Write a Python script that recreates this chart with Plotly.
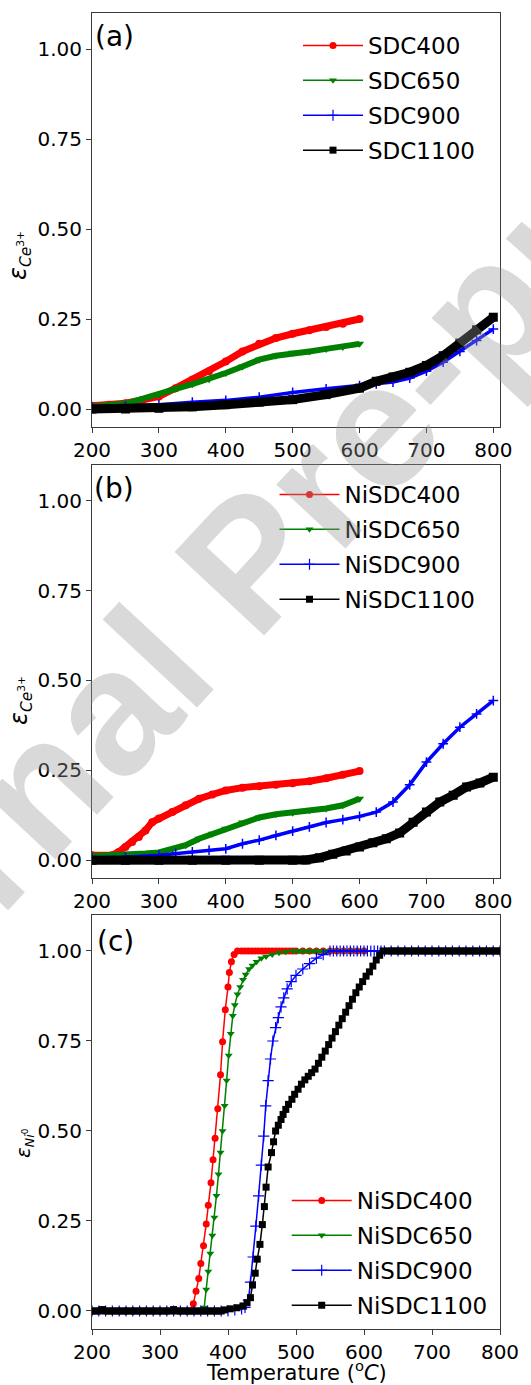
import plotly.graph_objects as go

# ---------------- data: panel (a) ----------------
T_A_LOW = [200, 225, 250, 275, 300, 325, 350, 375, 400, 425, 450, 475, 500, 525, 550, 575, 600]
SDC400 = [0.009, 0.012, 0.016, 0.025, 0.035, 0.058, 0.081, 0.105, 0.132, 0.160, 0.181, 0.197, 0.209, 0.219, 0.228, 0.237, 0.250]
SDC650 = [0.007, 0.010, 0.015, 0.028, 0.040, 0.056, 0.069, 0.083, 0.100, 0.118, 0.137, 0.148, 0.156, 0.160, 0.167, 0.172, 0.181]
T_A_HIGH = [200, 250, 300, 350, 400, 450, 500, 550, 600, 625, 650, 675, 700, 725, 750, 775, 800]
SDC900 = [0.006, 0.008, 0.012, 0.019, 0.024, 0.033, 0.046, 0.056, 0.065, 0.070, 0.075, 0.086, 0.105, 0.130, 0.160, 0.190, 0.222]
SDC1100 = [0.000, 0.000, 0.002, 0.006, 0.012, 0.019, 0.026, 0.040, 0.058, 0.077, 0.089, 0.102, 0.121, 0.148, 0.183, 0.220, 0.255]

# ---------------- data: panel (b) ----------------
T_B400 = [200, 230, 240, 250, 260, 270, 280, 290, 300, 320, 340, 360, 380, 400, 425, 450, 475, 500, 525, 550, 575, 600]
NISDC400_B = [0.014, 0.014, 0.023, 0.037, 0.051, 0.065, 0.083, 0.106, 0.116, 0.134, 0.153, 0.171, 0.183, 0.194, 0.202, 0.206, 0.210, 0.214, 0.220, 0.228, 0.238, 0.248]
T_B650 = [200, 250, 280, 300, 320, 340, 360, 380, 400, 425, 450, 475, 500, 525, 550, 575, 600]
NISDC650_B = [0.012, 0.014, 0.019, 0.022, 0.030, 0.042, 0.060, 0.074, 0.088, 0.105, 0.119, 0.128, 0.132, 0.139, 0.144, 0.153, 0.171]
T_B900 = [200, 250, 300, 325, 350, 375, 400, 425, 450, 475, 500, 525, 550, 575, 600, 625, 650, 675, 700, 725, 750, 775, 800]
NISDC900_B = [0.007, 0.009, 0.014, 0.019, 0.023, 0.028, 0.032, 0.046, 0.056, 0.069, 0.081, 0.093, 0.105, 0.113, 0.122, 0.134, 0.162, 0.210, 0.273, 0.324, 0.370, 0.407, 0.444]
T_B1100 = [200, 250, 300, 350, 400, 450, 500, 520, 540, 560, 580, 600, 620, 640, 660, 680, 700, 720, 740, 760, 780, 800]
NISDC1100_B = [0.000, 0.000, 0.000, 0.000, 0.000, 0.000, 0.000, 0.001, 0.007, 0.017, 0.026, 0.037, 0.049, 0.060, 0.076, 0.106, 0.134, 0.162, 0.181, 0.204, 0.215, 0.231]

# ---------------- data: panel (c) ----------------
T_C400 = [200, 210, 220, 230, 240, 250, 260, 270, 280, 290, 300, 310, 320, 330, 340, 345,
          349, 353, 357, 360, 364, 368, 371, 375, 378, 381, 385, 389, 392, 396, 400, 402, 405, 409, 414,
          420, 425, 430, 435, 440, 445, 450, 455, 460, 465, 470, 475, 480, 485, 490, 495, 500,
          510, 520, 530, 540, 550, 560, 570, 580, 590, 600]
NISDC400_C = [0.0, 0.0, 0.0, 0.0, 0.0, 0.0, 0.0, 0.0, 0.0, 0.0, 0.0, 0.0, 0.0, 0.0, 0.0, 0.0,
              0.020, 0.055, 0.090, 0.132, 0.181, 0.242, 0.294, 0.356, 0.420, 0.480, 0.562, 0.656, 0.748, 0.837, 0.900, 0.940, 0.970, 0.990, 1.0,
              1.0, 1.0, 1.0, 1.0, 1.0, 1.0, 1.0, 1.0, 1.0, 1.0, 1.0, 1.0, 1.0, 1.0, 1.0, 1.0, 1.0,
              1.0, 1.0, 1.0, 1.0, 1.0, 1.0, 1.0, 1.0, 1.0, 1.0]

T_C650 = [200, 210, 220, 230, 240, 250, 260, 270, 280, 290, 300, 310, 320, 330, 340, 350, 360,
          365, 368, 371, 374, 377, 380, 383, 386, 389, 392, 395, 398, 401, 404, 407, 410, 414, 418, 422, 426,
          431, 436, 442, 449, 456, 465, 475, 485, 495,
          500, 505, 510, 515, 520, 525, 530, 535, 540, 545, 550, 560, 570, 580, 590, 600]
NISDC650_C = [0.0, 0.0, 0.0, 0.0, 0.0, 0.0, 0.0, 0.0, 0.0, 0.0, 0.0, 0.0, 0.0, 0.0, 0.0, 0.0, 0.0,
              0.010, 0.060, 0.110, 0.160, 0.210, 0.260, 0.320, 0.380, 0.440, 0.500, 0.570, 0.640, 0.710, 0.770, 0.820, 0.850, 0.880, 0.900, 0.920, 0.935,
              0.950, 0.960, 0.970, 0.980, 0.985, 0.990, 0.995, 0.998, 1.0,
              1.0, 1.0, 1.0, 1.0, 1.0, 1.0, 1.0, 1.0, 1.0, 1.0, 1.0, 1.0, 1.0, 1.0, 1.0, 1.0]

T_C900 = [200, 210, 220, 230, 240, 250, 260, 270, 280, 290, 300, 310, 320, 330, 340, 350, 360, 370, 380, 390, 400, 410, 420,
          425, 430, 433, 437, 441, 445, 449, 452.5, 455.5, 459, 462.5, 466, 470, 474, 478, 482, 487, 493, 500, 510, 520, 530, 540, 550,
          555, 560, 565, 570, 575, 580, 585, 590, 595, 600, 605, 610, 615, 620, 625, 630,
          640, 650, 660, 670, 680, 690, 700, 710, 720, 730, 740, 750, 760, 770, 780, 790, 800]
NISDC900_C = [0.0, 0.0, 0.0, 0.0, 0.0, 0.0, 0.0, 0.0, 0.0, 0.0, 0.0, 0.0, 0.0, 0.0, 0.0, 0.0, 0.0, 0.0, 0.0, 0.0, 0.0, 0.003, 0.006,
              0.010, 0.030, 0.080, 0.150, 0.236, 0.320, 0.405, 0.486, 0.570, 0.640, 0.700, 0.750, 0.787, 0.815, 0.845, 0.870, 0.895, 0.915, 0.932, 0.950, 0.965, 0.980, 0.990, 1.0,
              1.0, 1.0, 1.0, 1.0, 1.0, 1.0, 1.0, 1.0, 1.0, 1.0, 1.0, 1.0, 1.0, 1.0, 1.0, 1.0,
              1.0, 1.0, 1.0, 1.0, 1.0, 1.0, 1.0, 1.0, 1.0, 1.0, 1.0, 1.0, 1.0, 1.0, 1.0, 1.0, 1.0]

T_C1100 = [200, 205, 210, 215, 220, 225, 230, 235, 240, 245, 250, 255, 260, 265, 270, 275, 280, 285, 290, 295,
           300, 305, 310, 315, 320, 325, 330, 335, 340, 345, 350, 355, 360, 365, 370, 375, 380, 385, 390,
           395, 403, 413, 422, 428, 433, 436, 440, 443, 447,
           450.5, 453.5, 456, 459, 464, 467, 470, 474, 478, 481,
           485, 489, 494, 498, 503, 508, 513, 518, 523, 528,
           533, 538, 543, 548, 553, 558, 563, 568, 573, 578,
           583, 588, 593, 598, 603, 608, 613, 618, 623, 628,
           635, 640, 645, 650, 655, 660, 665, 670, 675, 680, 685, 690, 695, 700, 705, 710, 715,
           720, 725, 730, 735, 740, 745, 750, 755, 760, 765, 770, 775, 780, 785, 790, 795, 800]
NISDC1100_C = [0.0, 0.0, 0.0, 0.004, 0.0, 0.0, 0.0, 0.0, 0.0, 0.0, 0.0, 0.0, 0.0, 0.0, 0.0, 0.0, 0.0, 0.0, 0.0, 0.0,
               0.0, 0.0, 0.0, 0.0, 0.004, 0.0, 0.0, 0.0, 0.0, 0.0, 0.0, 0.0, 0.0, 0.0, 0.0, 0.0, 0.0, 0.0, 0.0,
               0.003, 0.006, 0.009, 0.014, 0.023, 0.037, 0.072, 0.105, 0.144, 0.185,
               0.240, 0.290, 0.344, 0.400, 0.440, 0.470, 0.500, 0.516, 0.532, 0.546,
               0.560, 0.574, 0.588, 0.602, 0.616, 0.630, 0.642, 0.652, 0.662, 0.672,
               0.688, 0.705, 0.722, 0.740, 0.758, 0.776, 0.794, 0.812, 0.830, 0.848,
               0.866, 0.884, 0.900, 0.915, 0.930, 0.942, 0.958, 0.975, 0.988, 1.0,
               1.0, 1.0, 1.0, 1.0, 1.0, 1.0, 1.0, 1.0, 1.0, 1.0, 1.0, 1.0, 1.0, 1.0, 1.0, 1.0, 1.0,
               1.0, 1.0, 1.0, 1.0, 1.0, 1.0, 1.0, 1.0, 1.0, 1.0, 1.0, 1.0, 1.0, 1.0, 1.0, 1.0, 1.0]

NAMES_A = ["SDC400", "SDC650", "SDC900", "SDC1100"]
NAMES_BC = ["NiSDC400", "NiSDC650", "NiSDC900", "NiSDC1100"]
X_TICKS = [200, 300, 400, 500, 600, 700, 800]
Y_TICKS = [0.0, 0.25, 0.5, 0.75, 1.0]
Y_TICKTEXT = ["0.00", "0.25", "0.50", "0.75", "1.00"]

for t, v in [(T_C400, NISDC400_C), (T_C650, NISDC650_C), (T_C900, NISDC900_C), (T_C1100, NISDC1100_C)]:
    assert len(t) == len(v), (len(t), len(v))

# ---------------- styles ----------------
FONT = "DejaVu Sans"
COLORS = ["#ff0000", "#008000", "#0000ff", "#000000"]
SYMBOLS = ["circle", "triangle-down", "cross-thin", "square"]
BAND_W = [7, 6, 3.5, 9]
BAND_MS = [8, 8, 7, 9]

fig = go.Figure()


def add_band(x, y, i, xa, ya):
    mk = dict(symbol=SYMBOLS[i], size=BAND_MS[i], color=COLORS[i])
    if SYMBOLS[i] == "cross-thin":
        mk["line"] = dict(color=COLORS[i], width=1.5)
    fig.add_trace(go.Scatter(x=x, y=y, mode="lines+markers", xaxis=xa, yaxis=ya,
                             line=dict(color=COLORS[i], width=BAND_W[i]),
                             marker=mk, showlegend=False, hoverinfo="skip"))


def thin_marker(i):
    mk = dict(symbol=SYMBOLS[i], size=7, color=COLORS[i])
    if SYMBOLS[i] == "cross-thin":
        mk["line"] = dict(color=COLORS[i], width=1.2)
        mk["size"] = 8
    return mk


def add_thin(x, y, i, xa, ya):
    fig.add_trace(go.Scatter(x=x, y=y, mode="lines+markers", xaxis=xa, yaxis=ya,
                             line=dict(color=COLORS[i], width=1.5),
                             marker=thin_marker(i), showlegend=False, hoverinfo="skip"))


def add_legend_entry(name, i, xa, ya, leg):
    fig.add_trace(go.Scatter(x=[None], y=[None], mode="lines+markers", name=name,
                             xaxis=xa, yaxis=ya, legend=leg, legendgroup=leg + name,
                             line=dict(color=COLORS[i], width=1.5), marker=thin_marker(i)))


# panel (a)
add_band(T_A_LOW, SDC400, 0, "x", "y")
add_band(T_A_LOW, SDC650, 1, "x", "y")
add_band(T_A_HIGH, SDC900, 2, "x", "y")
add_band(T_A_HIGH, SDC1100, 3, "x", "y")
# panel (b)
add_band(T_B400, NISDC400_B, 0, "x2", "y2")
add_band(T_B650, NISDC650_B, 1, "x2", "y2")
add_band(T_B900, NISDC900_B, 2, "x2", "y2")
add_band(T_B1100, NISDC1100_B, 3, "x2", "y2")
# panel (c)
add_thin(T_C400, NISDC400_C, 0, "x3", "y3")
add_thin(T_C650, NISDC650_C, 1, "x3", "y3")
add_thin(T_C900, NISDC900_C, 2, "x3", "y3")
add_thin(T_C1100, NISDC1100_C, 3, "x3", "y3")

for i, n in enumerate(NAMES_A):
    add_legend_entry(n, i, "x", "y", "legend")
for i, n in enumerate(NAMES_BC):
    add_legend_entry(n, i, "x2", "y2", "legend2")
for i, n in enumerate(NAMES_BC):
    add_legend_entry(n, i, "x3", "y3", "legend3")

AX = dict(showline=True, mirror=True, linecolor="#3a3a3a", linewidth=1,
          ticks="outside", ticklen=5, tickwidth=1, tickcolor="#3a3a3a",
          showgrid=False, zeroline=False,
          tickfont=dict(size=20, family=FONT, color="black"))

XA = dict(AX, tickvals=X_TICKS)
YA = dict(AX, tickvals=Y_TICKS, ticktext=Y_TICKTEXT, range=[-0.05, 1.10])

LEG = dict(xanchor="left", yanchor="top", bgcolor="rgba(255,255,255,0)",
           font=dict(size=23, family=FONT, color="black"), itemwidth=60,
           traceorder="grouped", tracegroupgap=2)

fig.update_layout(
    width=531, height=1385,
    margin=dict(l=92, r=31, t=13, b=56),
    paper_bgcolor="white", plot_bgcolor="white",
    font=dict(family=FONT, size=20, color="black"),
    xaxis=dict(XA, domain=[0, 1], anchor="y", range=[200, 810]),
    yaxis=dict(YA, domain=[0.6854, 1.0], anchor="x"),
    xaxis2=dict(XA, domain=[0, 1], anchor="y2", range=[200, 810]),
    yaxis2=dict(YA, domain=[0.3425, 0.6568], anchor="x2"),
    xaxis3=dict(XA, domain=[0, 1], anchor="y3", range=[200, 800]),
    yaxis3=dict(YA, domain=[0.0, 0.3146], anchor="x3"),
    legend=dict(LEG, x=(298 - 92) / 408, y=(1329 - 24) / 1316),
    legend2=dict(LEG, x=(274.5 - 92) / 408, y=(1329 - 473) / 1316),
    legend3=dict(LEG, x=(286.7 - 92) / 408, y=(1329 - 1179) / 1316),
)

ann = []
# panel labels
for txt, yc, xl in [("(a)", 36.7, 93), ("(b)", 489, 92), ("(c)", 941, 95)]:
    ann.append(dict(text=txt, xref="paper", yref="paper", x=(xl - 92) / 408, y=(1329 - yc) / 1316,
                    xanchor="left", yanchor="middle", showarrow=False,
                    font=dict(size=28, family=FONT, color="black")))
# y-axis labels
YLAB_CE = "<span style='font-size:24px'><i>ε</i></span><sub><i>Ce</i><sup>3+</sup></sub>"
YLAB_NI = "<span style='font-size:20px'><i>ε</i></span><sub><i>Ni</i><sup>0</sup></sub>"
for txt, xc, yc, fs in [(YLAB_CE, 20, 256, 22), (YLAB_CE, 20, 701, 22), (YLAB_NI, 24, 1143, 18)]:
    ann.append(dict(text=txt, xref="paper", yref="paper", x=(xc - 92) / 408, y=(1329 - yc) / 1316,
                    xanchor="center", yanchor="middle", textangle=-90, showarrow=False,
                    font=dict(size=fs, family=FONT, color="black")))
# x-axis title
ann.append(dict(text="Temperature (<sup>o</sup><i>C</i>)", xref="paper", yref="paper",
                x=0.5, y=(1329 - 1371) / 1316, xanchor="center", yanchor="middle", showarrow=False,
                font=dict(size=21, family=FONT, color="black")))
# watermark
ann.append(dict(text="<b>Journal Pre-proof</b>", xref="paper", yref="paper",
                x=(248 - 92) / 408, y=(1329 - 562) / 1316, xanchor="center", yanchor="middle",
                textangle=-47, showarrow=False,
                font=dict(size=178, family="Liberation Sans", color="rgba(150,150,150,0.36)")))
fig.update_layout(annotations=ann)

fig.write_html("out.html")
